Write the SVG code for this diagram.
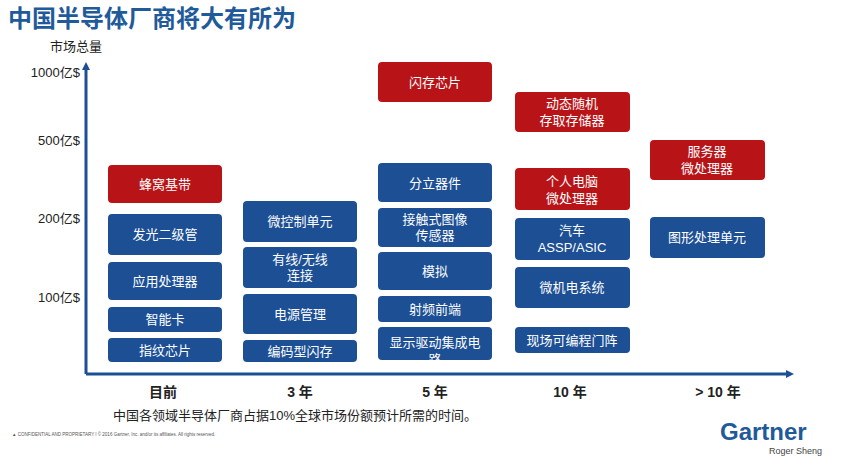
<svg xmlns="http://www.w3.org/2000/svg" width="851" height="458" viewBox="0 0 851 458">
<style>
text{font-family:"Liberation Sans","Noto Sans CJK SC",sans-serif}
.b{fill:#1d4f94}.r{fill:#b81418}
.t{fill:#fff;font-size:13px;text-anchor:middle}
.ax{fill:#222;font-size:13px;text-anchor:end}
.xl{fill:#222;font-size:14px;font-weight:bold;text-anchor:middle}
</style>
<defs>
<marker id="ar" markerWidth="8" markerHeight="8" refX="4" refY="4" orient="auto" markerUnits="userSpaceOnUse"><path d="M0,0L8,4L0,8z" fill="#1d4f94"/></marker>
<clipPath id="c1"><rect x="378" y="327" width="114" height="34"/></clipPath>
</defs>
<rect width="851" height="458" fill="#fff"/>
<text x="8" y="27" font-size="24" font-weight="bold" fill="#1f5a9a">中国半导体厂商将大有所为</text>
<text x="50" y="51" font-size="13" fill="#222">市场总量</text>
<text class="ax" x="80" y="77">1000亿$</text>
<text class="ax" x="80" y="145">500亿$</text>
<text class="ax" x="80" y="223">200亿$</text>
<text class="ax" x="80" y="302">100亿$</text>
<g id="connectors" stroke="#1d4f94" stroke-width="3" fill="none">
<path d="M86,374V66" marker-end="url(#ar)"/>
<path d="M86,374H790" marker-end="url(#ar)"/>
</g>
<g id="col1">
<rect class="r" x="108" y="165" width="114" height="38" rx="4"/><text class="t" x="165" y="189">蜂窝基带</text>
<rect class="b" x="108" y="214" width="114" height="41" rx="4"/><text class="t" x="165" y="239">发光二级管</text>
<rect class="b" x="108" y="262" width="114" height="38" rx="4"/><text class="t" x="165" y="286">应用处理器</text>
<rect class="b" x="108" y="307" width="114" height="25" rx="4"/><text class="t" x="165" y="324">智能卡</text>
<rect class="b" x="108" y="338" width="114" height="24" rx="4"/><text class="t" x="165" y="355">指纹芯片</text>
</g>
<g id="col2">
<rect class="b" x="243" y="201" width="114" height="41" rx="4"/><text class="t" x="300" y="226">微控制单元</text>
<rect class="b" x="243" y="247" width="114" height="41" rx="4"/><text class="t" x="300" y="264">有线/无线</text><text class="t" x="300" y="280">连接</text>
<rect class="b" x="243" y="294" width="114" height="40" rx="4"/><text class="t" x="300" y="319">电源管理</text>
<rect class="b" x="243" y="340" width="114" height="22" rx="4"/><text class="t" x="300" y="356">编码型闪存</text>
</g>
<g id="col3">
<rect class="r" x="378" y="62" width="114" height="40" rx="4"/><text class="t" x="435" y="87">闪存芯片</text>
<rect class="b" x="378" y="163" width="114" height="39" rx="4"/><text class="t" x="435" y="188">分立器件</text>
<rect class="b" x="378" y="208" width="114" height="39" rx="4"/><text class="t" x="435" y="224">接触式图像</text><text class="t" x="435" y="240">传感器</text>
<rect class="b" x="378" y="252" width="114" height="38" rx="4"/><text class="t" x="435" y="276">模拟</text>
<rect class="b" x="378" y="296" width="114" height="26" rx="4"/><text class="t" x="435" y="314">射频前端</text>
<rect class="b" x="378" y="327" width="114" height="33" rx="4"/><text class="t" x="435" y="347">显示驱动集成电</text><text class="t" x="435" y="364" clip-path="url(#c1)">路</text>
</g>
<g id="col4">
<rect class="r" x="515" y="92" width="115" height="40" rx="4"/><text class="t" x="572" y="108">动态随机</text><text class="t" x="572" y="125">存取存储器</text>
<rect class="r" x="515" y="168" width="115" height="42" rx="4"/><text class="t" x="572" y="186">个人电脑</text><text class="t" x="572" y="203">微处理器</text>
<rect class="b" x="515" y="218" width="115" height="42" rx="4"/><text class="t" x="572" y="235">汽车</text><text class="t" x="572" y="252">ASSP/ASIC</text>
<rect class="b" x="515" y="267" width="115" height="41" rx="4"/><text class="t" x="572" y="292">微机电系统</text>
<rect class="b" x="515" y="327" width="115" height="26" rx="4"/><text class="t" x="572" y="345">现场可编程门阵</text>
</g>
<g id="col5">
<rect class="r" x="650" y="140" width="115" height="40" rx="4"/><text class="t" x="707" y="156">服务器</text><text class="t" x="707" y="173">微处理器</text>
<rect class="b" x="650" y="217" width="115" height="41" rx="4"/><text class="t" x="707" y="242">图形处理单元</text>
</g>
<text class="xl" x="163" y="397">目前</text>
<text class="xl" x="300" y="397">3 年</text>
<text class="xl" x="435" y="397">5 年</text>
<text class="xl" x="570" y="397">10 年</text>
<text class="xl" x="718" y="397">&gt; 10 年</text>
<text x="113" y="420" font-size="13" fill="#222">中国各领域半导体厂商占据10%全球市场份额预计所需的时间。</text>
<text x="12" y="436" font-size="4.5" fill="#555">▲  CONFIDENTIAL AND PROPRIETARY  I  © 2016 Gartner, Inc. and/or its affiliates. All rights reserved.</text>
<text x="720" y="440" font-size="24" font-weight="bold" fill="#1f5a9a">Gartner</text>
<text x="822" y="454" font-size="9" fill="#444" text-anchor="end">Roger Sheng</text>
</svg>
